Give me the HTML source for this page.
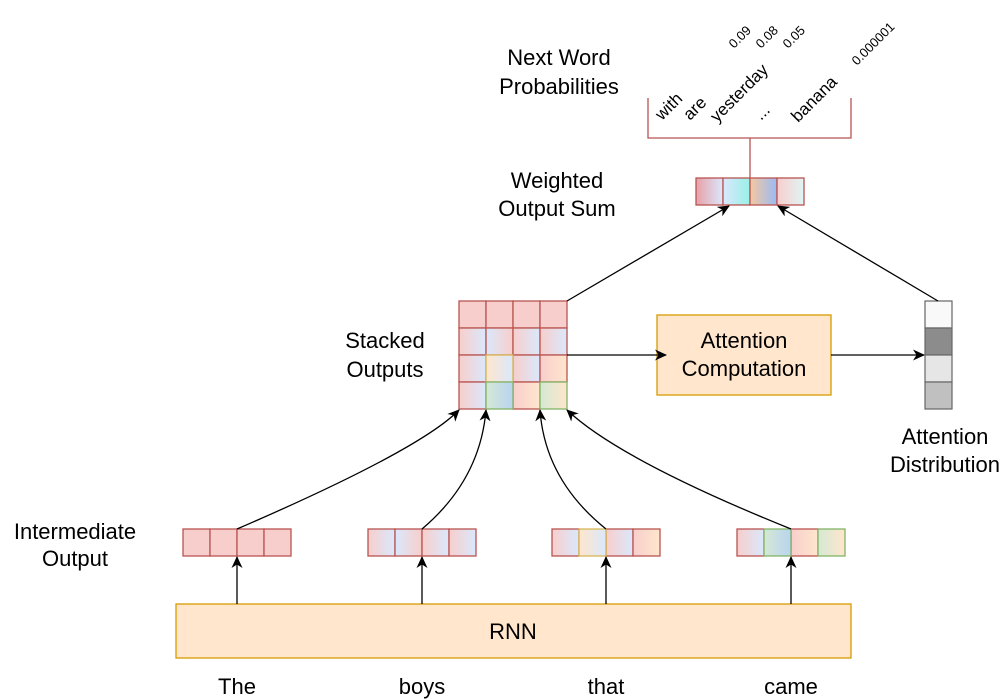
<!DOCTYPE html>
<html><head><meta charset="utf-8"><style>
html,body{margin:0;padding:0;background:#fff;}
svg{display:block;font-family:"Liberation Sans",sans-serif;}
</style></head><body>
<svg width="1000" height="699" viewBox="0 0 1000 699" xmlns="http://www.w3.org/2000/svg">
<defs>
<marker id="a" markerWidth="12" markerHeight="12" refX="11" refY="6" orient="auto" markerUnits="userSpaceOnUse"><path d="M0,0.5 L12,6 L0,11.5 L3.5,6 Z" fill="#000"/></marker>
<linearGradient id="pb"><stop offset="0" stop-color="#f8cecc"/><stop offset="1" stop-color="#dae8fc"/></linearGradient>
<linearGradient id="bp"><stop offset="0" stop-color="#dae8fc"/><stop offset="1" stop-color="#f8cecc"/></linearGradient>
<linearGradient id="yb"><stop offset="0" stop-color="#ffe6cc"/><stop offset="1" stop-color="#dae8fc"/></linearGradient>
<linearGradient id="po"><stop offset="0" stop-color="#f8cecc"/><stop offset="1" stop-color="#ffe6cc"/></linearGradient>
<linearGradient id="gb"><stop offset="0" stop-color="#d5e8d4"/><stop offset="1" stop-color="#b8d4f0"/></linearGradient>
<linearGradient id="go"><stop offset="0" stop-color="#d5e8d4"/><stop offset="1" stop-color="#ffe6cc"/></linearGradient>
<linearGradient id="w1"><stop offset="0" stop-color="#e8a0a8"/><stop offset="1" stop-color="#dae8fc"/></linearGradient>
<linearGradient id="w2"><stop offset="0" stop-color="#dae8fc"/><stop offset="1" stop-color="#99f0e8"/></linearGradient>
<linearGradient id="w3"><stop offset="0" stop-color="#f5c8a0"/><stop offset="1" stop-color="#99bbf5"/></linearGradient>
<linearGradient id="w4"><stop offset="0" stop-color="#f8cecc"/><stop offset="1" stop-color="#e0f5f5"/></linearGradient>
</defs>
<g stroke="#b85450" stroke-width="1.3">
<rect x="183" y="529" width="27" height="27" fill="#f8cecc"/><rect x="210" y="529" width="27" height="27" fill="#f8cecc"/><rect x="237" y="529" width="27" height="27" fill="#f8cecc"/><rect x="264" y="529" width="27" height="27" fill="#f8cecc"/>
<rect x="368" y="529" width="27" height="27" fill="url(#pb)"/><rect x="395" y="529" width="27" height="27" fill="url(#bp)"/><rect x="422" y="529" width="27" height="27" fill="url(#pb)"/><rect x="449" y="529" width="27" height="27" fill="url(#pb)"/>
<rect x="552" y="529" width="27" height="27" fill="url(#pb)"/><rect x="606" y="529" width="27" height="27" fill="url(#pb)"/><rect x="633" y="529" width="27" height="27" fill="url(#po)"/>
<rect x="579" y="529" width="27" height="27" fill="url(#yb)" stroke="#d6b656"/>
<rect x="737" y="529" width="27" height="27" fill="url(#pb)"/><rect x="791" y="529" width="27" height="27" fill="url(#po)"/>
<rect x="764" y="529" width="27" height="27" fill="url(#gb)" stroke="#82b366"/><rect x="818" y="529" width="27" height="27" fill="url(#go)" stroke="#82b366"/>
<rect x="459" y="301" width="27" height="27" fill="#f8cecc"/><rect x="486" y="301" width="27" height="27" fill="#f8cecc"/><rect x="513" y="301" width="27" height="27" fill="#f8cecc"/><rect x="540" y="301" width="27" height="27" fill="#f8cecc"/>
<rect x="459" y="328" width="27" height="27" fill="url(#pb)"/><rect x="486" y="328" width="27" height="27" fill="url(#bp)"/><rect x="513" y="328" width="27" height="27" fill="url(#pb)"/><rect x="540" y="328" width="27" height="27" fill="url(#pb)"/>
<rect x="459" y="355" width="27" height="27" fill="url(#pb)"/><rect x="513" y="355" width="27" height="27" fill="url(#pb)"/><rect x="540" y="355" width="27" height="27" fill="url(#po)"/>
<rect x="459" y="382" width="27" height="27" fill="url(#pb)"/><rect x="513" y="382" width="27" height="27" fill="url(#po)"/>
<rect x="486" y="355" width="27" height="27" fill="url(#yb)" stroke="#d6b656"/>
<rect x="486" y="382" width="27" height="27" fill="url(#gb)" stroke="#82b366"/><rect x="540" y="382" width="27" height="27" fill="url(#go)" stroke="#82b366"/>
<rect x="696" y="178" width="27" height="27" fill="url(#w1)"/><rect x="723" y="178" width="27" height="27" fill="url(#w2)"/><rect x="750" y="178" width="27" height="27" fill="url(#w3)"/><rect x="777" y="178" width="27" height="27" fill="url(#w4)"/>
<path d="M750,178 V138 M648,98 V138 H851 V98" fill="none"/>
</g>
<g stroke="#666" stroke-width="1.2">
<rect x="925" y="301" width="27" height="27" fill="#f9f9f9"/><rect x="925" y="328" width="27" height="27" fill="#8c8c8c"/><rect x="925" y="355" width="27" height="27" fill="#e6e6e6"/><rect x="925" y="382" width="27" height="27" fill="#c0c0c0"/>
</g>
<rect x="176" y="604" width="675" height="54" fill="#ffe6cc" stroke="#d79b00" stroke-width="1.3"/>
<rect x="657" y="315" width="174" height="80" fill="#ffe6cc" stroke="#d79b00" stroke-width="1.3"/>
<g stroke="#000" stroke-width="1.3" fill="none" marker-end="url(#a)">
<line x1="237" y1="604" x2="237" y2="557"/><line x1="422" y1="604" x2="422" y2="557"/><line x1="606" y1="604" x2="606" y2="557"/><line x1="791" y1="604" x2="791" y2="557"/>
<path d="M237,529 Q420,450 459,410"/>
<path d="M422,529 Q480,480 486,410"/>
<path d="M606,529 Q545,480 540,410"/>
<path d="M791,529 Q620,460 567,410"/>
<line x1="567" y1="355" x2="666" y2="355"/>
<line x1="831" y1="355" x2="924" y2="355"/>
<line x1="567" y1="301" x2="729" y2="206"/>
<line x1="938" y1="301" x2="778" y2="206"/>
</g>
<g font-size="22" fill="#000" text-anchor="middle">
<text x="513" y="639">RNN</text>
<text x="237" y="694">The</text><text x="422" y="694">boys</text><text x="606" y="694">that</text><text x="791" y="694">came</text>
<text x="75" y="539">Intermediate</text><text x="75" y="566">Output</text>
<text x="385" y="348">Stacked</text><text x="385" y="377">Outputs</text>
<text x="744" y="348">Attention</text><text x="744" y="376">Computation</text>
<text x="945" y="444">Attention</text><text x="945" y="472">Distribution</text>
<text x="557" y="188">Weighted</text><text x="557" y="216">Output Sum</text>
<text x="559" y="65">Next Word</text><text x="559" y="94">Probabilities</text>
</g>
<g font-size="17" fill="#000">
<text transform="translate(662,121) rotate(-45)">with</text>
<text transform="translate(690,121) rotate(-45)">are</text>
<text transform="translate(717,123) rotate(-45)">yesterday</text>
<text transform="translate(761,121) rotate(-45)">...</text>
<text transform="translate(798,123) rotate(-45)">banana</text>
</g>
<g font-size="13" fill="#000">
<text transform="translate(734,49) rotate(-45)">0.09</text>
<text transform="translate(761,49) rotate(-45)">0.08</text>
<text transform="translate(788,49) rotate(-45)">0.05</text>
<text transform="translate(857,66) rotate(-45)">0.000001</text>
</g>
</svg>
</body></html>
